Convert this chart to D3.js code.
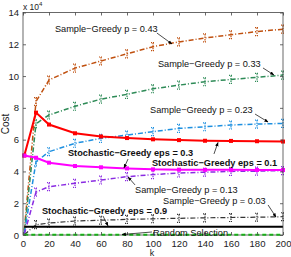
<!DOCTYPE html>
<html><head><meta charset="utf-8">
<script src="https://cdn.jsdelivr.net/npm/d3@7"></script>
<style>body{margin:0;background:#fff}svg{display:block}text{font-family:"Liberation Sans",Arial,sans-serif}</style>
</head><body><svg id="c" width="291" height="257"></svg>
<script>
const kVals = [1, 10, 20, 40, 60, 80, 100, 120, 140, 160, 180, 200];
const sg043 = [0.3, 8.4, 9.75, 10.5, 10.95, 11.4, 11.85, 12.15, 12.4, 12.6, 12.8, 12.95];
const sg033 = [0.2, 7.0, 7.55, 8.1, 8.55, 8.85, 9.2, 9.43, 9.64, 9.79, 9.92, 10.06];
const sg023 = [0.1, 4.6, 5.24, 5.77, 6.08, 6.29, 6.5, 6.71, 6.81, 6.92, 6.98, 7.02];
const sg013 = [0.05, 2.7, 3.04, 3.25, 3.46, 3.67, 3.8, 3.9, 3.95, 4.0, 4.02, 4.05];
const sg003 = [0.02, 0.65, 0.75, 0.88, 0.93, 0.98, 1.02, 1.05, 1.08, 1.1, 1.12, 1.15];
const sto01 = [5.0, 7.7, 6.95, 6.4, 6.2, 6.1, 6.02, 5.97, 5.93, 5.92, 5.9, 5.88];
const sto03 = [5.0, 4.86, 4.55, 4.34, 4.26, 4.19, 4.13, 4.11, 4.1, 4.1, 4.09, 4.09];
const sto09 = [0.52, 0.52, 0.52, 0.52, 0.52, 0.52, 0.52, 0.52, 0.52, 0.52, 0.52, 0.52];
const rand  = [0.02, 0.02, 0.02, 0.02, 0.02, 0.02, 0.02, 0.02, 0.02, 0.02, 0.02, 0.02];
const xTicks = [0, 20, 40, 60, 80, 100, 120, 140, 160, 180, 200];
const yTicks = [0, 2, 4, 6, 8, 10, 12, 14];

const annText = ["Sample\u2212Greedy p = 0.43", "Sample\u2212Greedy p = 0.33", "Sample\u2212Greedy p = 0.23",
  "Stochastic\u2212Greedy eps = 0.3", "Stochastic\u2212Greedy eps = 0.1", "Sample\u2212Greedy p = 0.13",
  "Sample\u2212Greedy p = 0.03", "Stochastic\u2212Greedy eps = 0.9", "Random Selection"];
const annBold = [false, false, false, true, true, false, false, true, false];
const annK = [24.6, 103.8, 97.7, 34.6, 99.2, 86.2, 107.7, 14.6, 100];
const annC = [12.78, 10.57, 7.68, 4.97, 4.34, 2.64, 1.95, 1.32, -0.06];
const arrK1 = [103, 184.6, 178.5, 80.8, 146.9, 86.2, 188.5, 61.5, 99.2];
const arrC1 = [12.71, 10.51, 7.61, 4.78, 5.10, 3.15, 1.89, 1.2, 0.19];
const arrK2 = [114.6, 193, 188.5, 77.7, 150, 80.8, 194.6, 65.4, 76.2];
const arrC2 = [12.02, 10.07, 7.11, 4.22, 5.82, 3.65, 1.13, 0.57, 0.03];

const svg = d3.select("#c");
const x = d3.scaleLinear().domain([0, 200]).range([23, 283]);
const y = d3.scaleLinear().domain([0, 14]).range([235, 12.5]);

const series = [
  {v: sg043, c: "#c0500f", w: 1.5, dash: "5,2,1,2", eb: true},
  {v: sg033, c: "#2e8b57", w: 1.5, dash: "5,2,1,2", eb: true},
  {v: sg023, c: "#1e90e0", w: 1.5, dash: "5,2,1,2", eb: true},
  {v: sg013, c: "#8a2be2", w: 1.5, dash: "5,2,1,2", eb: true},
  {v: sg003, c: "#333333", w: 1.2, dash: "5,2,1,2", eb: true},
  {v: sto01, c: "#ff0000", w: 2, dash: null, sq: true},
  {v: sto03, c: "#ff00ff", w: 2, dash: null, sq: true},
  {v: sto09, c: "#000000", w: 2, dash: null},
  {v: rand,  c: "#00ee00", w: 2, dash: "4,3"}
];
const line = d3.line().x((d, i) => x(kVals[i])).y(d => y(d));
series.forEach(s => {
  svg.append("path").attr("d", line(s.v)).attr("fill", "none")
    .attr("stroke", s.c).attr("stroke-width", s.w)
    .attr("stroke-dasharray", s.dash);
  if (s.eb) {
    const g = svg.append("g").attr("stroke", s.c).attr("stroke-width", 1.2);
    s.v.forEach((d, i) => {
      if (i === 0) return;
      const px = x(kVals[i]);
      g.append("line").attr("x1", px).attr("x2", px).attr("y1", y(d + 0.25)).attr("y2", y(d - 0.25)).attr("stroke-dasharray", "1.5,1");
      g.append("line").attr("x1", px - 2).attr("x2", px + 2).attr("y1", y(d + 0.25)).attr("y2", y(d + 0.25)).attr("stroke-dasharray", "1,1");
      g.append("line").attr("x1", px - 2).attr("x2", px + 2).attr("y1", y(d - 0.25)).attr("y2", y(d - 0.25)).attr("stroke-dasharray", "1,1");
    });
  }
  if (s.sq) {
    svg.append("g").selectAll("rect").data(s.v).join("rect")
      .attr("x", (d, i) => x(kVals[i]) - 2).attr("y", d => y(d) - 2)
      .attr("width", 4).attr("height", 4).attr("fill", s.c);
  }
});

const ax = "#444";
svg.append("rect").attr("x", 23).attr("y", 12.5).attr("width", 260).attr("height", 222.5)
  .attr("fill", "none").attr("stroke", ax).attr("stroke-width", 0.8);
const xa = svg.append("g").attr("transform", "translate(0,235)")
  .call(d3.axisBottom(x).tickValues(xTicks).tickSizeInner(-3).tickSizeOuter(0).tickPadding(5));
const xt = svg.append("g").attr("transform", "translate(0,12.5)")
  .call(d3.axisTop(x).tickValues(xTicks).tickSizeInner(-3).tickSizeOuter(0).tickFormat(""));
const ya = svg.append("g").attr("transform", "translate(23,0)")
  .call(d3.axisLeft(y).tickValues(yTicks).tickSizeInner(-3).tickSizeOuter(0).tickPadding(6));
const yr = svg.append("g").attr("transform", "translate(283,0)")
  .call(d3.axisRight(y).tickValues(yTicks).tickSizeInner(-3).tickSizeOuter(0).tickFormat(""));
[xa, xt, ya, yr].forEach(g => {
  g.select(".domain").remove();
  g.selectAll("line").attr("stroke", ax).attr("stroke-width", 0.8);
  g.selectAll("text").attr("fill", "#222").style("font-size", "9.5px").style("font-family", "Liberation Sans, Arial, sans-serif");
});
ya.selectAll("text").attr("dx", 2);

svg.append("text").attr("x", 152).attr("y", 255.5).attr("text-anchor", "middle").style("font-size", "9px").attr("fill", "#222").text("k");
svg.append("text").attr("transform", "translate(9,124) rotate(-90)").attr("text-anchor", "middle").style("font-size", "10px").attr("fill", "#222").text("Cost");
const mult = svg.append("text").attr("x", 23).attr("y", 10).style("font-size", "8.5px").attr("fill", "#222");
mult.append("tspan").text("x 10");
mult.append("tspan").attr("dy", -4).style("font-size", "6px").text("4");

const defs = svg.append("defs");
defs.append("marker").attr("id", "ah").attr("viewBox", "0 0 10 10").attr("refX", 9).attr("refY", 5)
  .attr("markerWidth", 6).attr("markerHeight", 6).attr("orient", "auto")
  .append("path").attr("d", "M0,1 L10,5 L0,9 Z").attr("fill", "#000");
annText.forEach((t, i) => {
  svg.append("line").attr("x1", x(arrK1[i])).attr("y1", y(arrC1[i]))
    .attr("x2", x(arrK2[i])).attr("y2", y(arrC2[i]))
    .attr("stroke", "#000").attr("stroke-width", 0.7).attr("marker-end", "url(#ah)");
  svg.append("text").attr("x", x(annK[i])).attr("y", y(annC[i]))
    .style("font-size", "9.2px").style("font-weight", annBold[i] ? "bold" : "normal")
    .attr("fill", "#111").text(t);
});
</script></body></html>
